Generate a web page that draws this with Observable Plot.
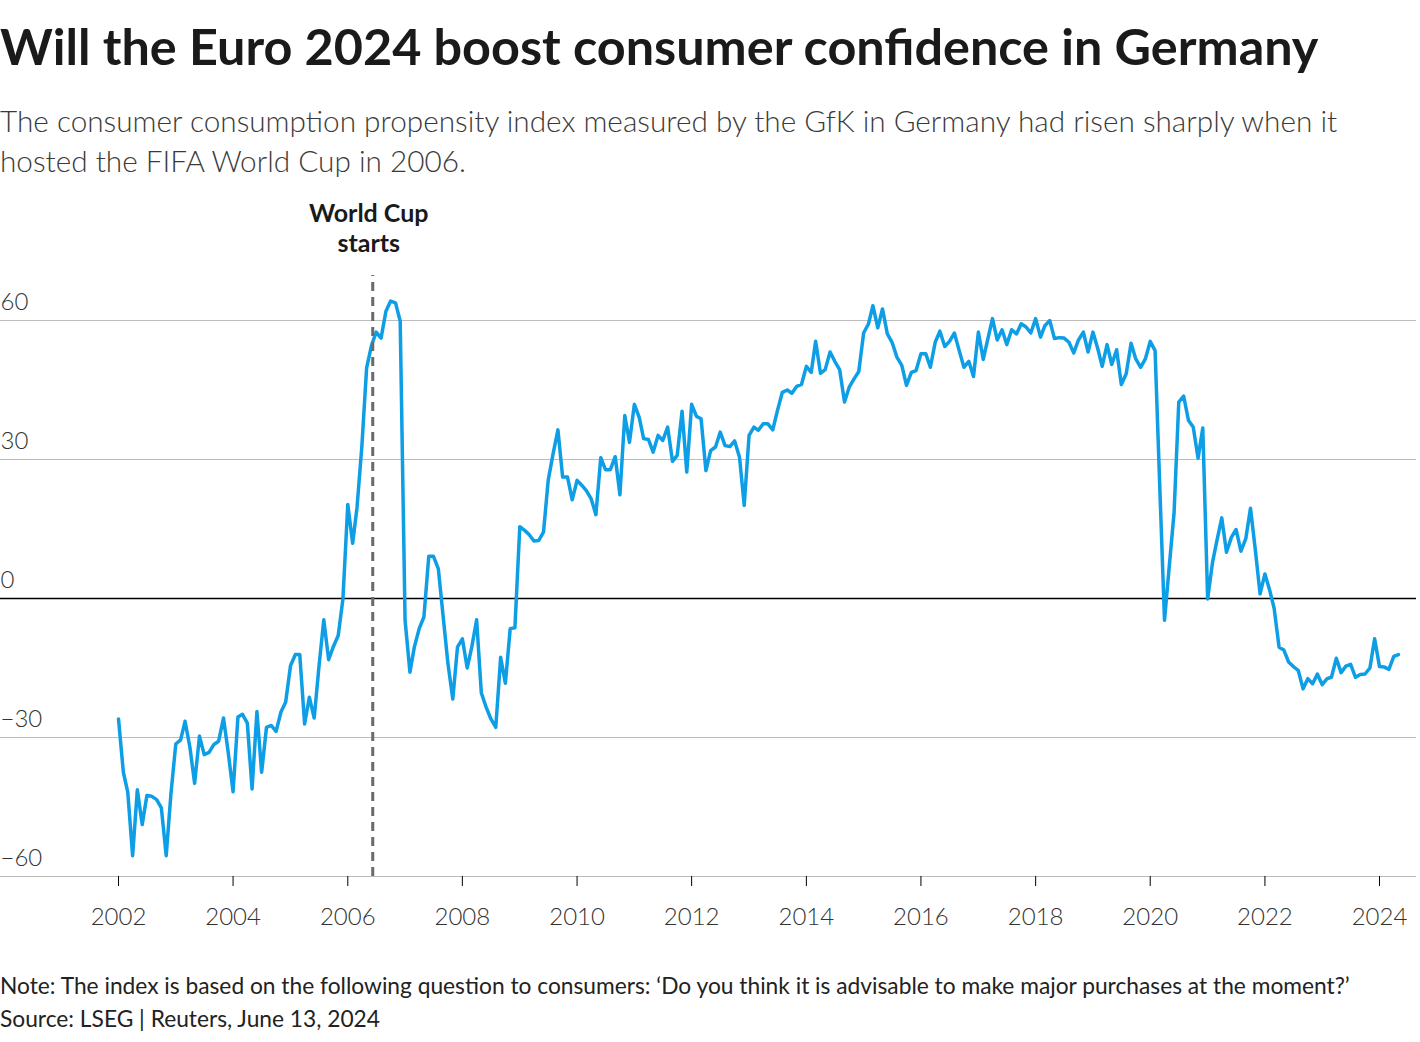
<!DOCTYPE html>
<html>
<head>
<meta charset="utf-8">
<script src="https://cdn.jsdelivr.net/npm/d3@7"></script>
<script src="https://cdn.jsdelivr.net/npm/@observablehq/plot@0.6"></script>
<style>
  html, body { margin: 0; padding: 0; background: #fff; }
  body { width: 1420px; height: 1042px; position: relative; overflow: hidden; font-family: Lato, "Noto Sans", sans-serif; }
  .t { position: absolute; left: 0; white-space: nowrap; line-height: 1; }
  #chart { position: absolute; left: 0; top: 190px; }
</style>
</head>
<body>
<div class="t" id="title"></div>
<div class="t" id="sub1"></div>
<div class="t" id="sub2"></div>
<div class="t" id="note"></div>
<div class="t" id="source"></div>
<div id="chart"></div>
<script>
// ---- Text ----
const titleText = "Will the Euro 2024 boost consumer confidence in Germany";
const subtitleLines = [
  "The consumer consumption propensity index measured by the GfK in Germany had risen sharply when it",
  "hosted the FIFA World Cup in 2006."
];
const noteText = "Note: The index is based on the following question to consumers: \u2018Do you think it is advisable to make major purchases at the moment?\u2019";
const sourceText = "Source: LSEG | Reuters, June 13, 2024";
const annotationText = "World Cup\nstarts";

// ---- Data ----
const startYear = 2002; // first value = January 2002, monthly
const indexValues = [
  // 2002
  -26, -37.5, -41.8, -55.5, -41.3, -48.8, -42.5, -42.7, -43.4, -45.2, -55.5, -42.2,
  // 2003
  -31.4, -30.5, -26.5, -32.1, -39.9, -29.7, -33.7, -33.2, -31.5, -30.8, -25.8, -33.2,
  // 2004
  -41.7, -25.6, -25, -26.9, -41.1, -24.4, -37.5, -27.8, -27.4, -28.7, -24.5, -22.4,
  // 2005
  -14.5, -12.1, -12.1, -27.1, -21.3, -25.8, -14.8, -4.6, -13.2, -10.4, -8, -0.1,
  // 2006
  20.3, 11.9, 19.7, 33, 49.8, 54.6, 57.5, 56.2, 62, 64.2, 63.8, 59.9,
  // 2007
  -4.7, -15.9, -10.5, -6.5, -4, 9.1, 9.1, 6.4, -4, -14, -21.7, -10.5,
  // 2008
  -8.7, -15, -10.5, -4.6, -20.4, -23.5, -26, -27.8, -12.7, -18.3, -6.5, -6.3,
  // 2009
  15.5, 14.7, 13.8, 12.4, 12.5, 14.3, 25.5, 31.2, 36.4, 26.2, 26.2, 21.3,
  // 2010
  25.5, 24.4, 23.3, 21.5, 18.1, 30.4, 27.8, 27.8, 30.6, 22.4, 39.5, 33.7,
  // 2011
  41.9, 39.1, 34.5, 34.3, 31.6, 35.2, 34.1, 37, 29.6, 30.9, 40.4, 27.3,
  // 2012
  41.9, 39.3, 38.8, 27.6, 31.9, 32.7, 35.9, 33, 32.8, 34, 30.5, 20.1,
  // 2013
  35.2, 37, 36.3, 37.7, 37.7, 36.4, 40.6, 44.5, 45, 44.3, 45.8, 46.2,
  // 2014
  50.1, 48.8, 55.5, 48.6, 49.4, 53.2, 51.2, 49.4, 42.4, 45.6, 47.4, 49,
  // 2015
  57.3, 59.3, 63.2, 58.4, 62.5, 57.1, 55.3, 52.1, 50.3, 46, 48.8, 49.2,
  // 2016
  52.8, 52.8, 49.9, 55.3, 57.7, 54.4, 55.5, 57.3, 53.5, 49.9, 51.2, 47.9,
  // 2017
  57.5, 51.6, 55.8, 60.4, 55.8, 58, 54.8, 58, 57.1, 59.3, 58.6, 57.3,
  // 2018
  60.4, 56.4, 58.9, 60, 56.1, 56.3, 56.2, 55.3, 53, 55.8, 57.5, 53.2,
  // 2019
  57.5, 53.9, 50.1, 54.8, 50.5, 53.7, 46.2, 48.5, 55.1, 51.7, 49.9, 51.7,
  // 2020
  55.5, 53.5, 25, -4.7, 6.8, 18.5, 42.4, 43.7, 38.4, 37, 30.3, 36.8,
  // 2021
  -0.1, 7.8, 12.5, 17.4, 10, 13.2, 14.9, 10.2, 12.9, 19.5, 10.4, 1,
  // 2022
  5.3, 1.7, -2.2, -10.5, -11.1, -13.7, -14.7, -15.5, -19.5, -17.3, -18.4, -16.3,
  // 2023
  -18.6, -17.3, -17, -12.9, -16, -14.6, -14.2, -17, -16.4, -16.3, -15, -8.7,
  // 2024
  -14.7, -14.8, -15.3, -12.5, -12.1
];
const yTicks = [-60, -30, 0, 30, 60];
const xTickYears = [2002, 2004, 2006, 2008, 2010, 2012, 2014, 2016, 2018, 2020, 2022, 2024];
const worldCupStart = new Date(Date.UTC(2006, 5, 9));
const yDomain = [-60, 60];
const xDomainYears = [2002, 2024];

const data = indexValues.map((v, i) => ({date: new Date(Date.UTC(startYear, i, 1)), value: v}));
const xTickDates = xTickYears.map(y => new Date(Date.UTC(y, 0, 1)));

// ---- Header / footer text placement ----
const FONT = "Lato";
const canvas = document.createElement("canvas");
const ctx = canvas.getContext("2d");
function fit(text, weight, width) {
  ctx.font = `${weight} 100px ${FONT}`;
  return 100 * width / ctx.measureText(text).width;
}
function place(id, text, weight, size, baseline, color) {
  const el = document.getElementById(id);
  el.textContent = text;
  el.style.fontWeight = weight;
  el.style.fontSize = size + "px";
  el.style.color = color;
  el.style.top = (baseline - 0.887 * size) + "px";
}
const titleSize = fit(titleText, 700, 1320);
place("title", titleText, 700, titleSize, 66, "#1a1a1a");
const subSize = fit(subtitleLines[0], 300, 1342);
place("sub1", subtitleLines[0], 300, subSize, 132, "#3a3a3a");
place("sub2", subtitleLines[1], 300, subSize, 172, "#3a3a3a");
const noteSize = fit(noteText, 400, 1352);
place("note", noteText, 400, noteSize, 995, "#222");
place("source", sourceText, 400, noteSize, 1028, "#222");

// ---- Chart ----
const fmt = d3.format("d");
const chart = Plot.plot({
  width: 1420,
  height: 760,
  marginTop: 130,
  marginBottom: 74,
  marginLeft: 0,
  marginRight: 4,
  style: {fontFamily: FONT, fontSize: "24px", background: "#fff", overflow: "visible"},
  x: {type: "utc", domain: xDomainYears.map(y => new Date(Date.UTC(y, 0, 1))), range: [118, 1379]},
  y: {domain: yDomain, range: [686, 130], axis: null},
  marks: [
    Plot.ruleY(yTicks.filter(d => d !== 0), {stroke: "#bcbcbc", strokeWidth: 1.2}),
    Plot.ruleY([0], {stroke: "#000", strokeWidth: 1.5}),
    Plot.text(yTicks, {y: d => d, text: d => fmt(d), frameAnchor: "left", textAnchor: "start", lineAnchor: "bottom", dy: -11, fill: "#333", fontWeight: 300, fontSize: 24}),
    Plot.axisX(xTickDates, {tickSize: 10, tickPadding: 21, tickFormat: "%Y", stroke: "#000", fill: "#333", fontWeight: 300, fontSize: 24}),
    Plot.line(data, {x: "date", y: "value", stroke: "#0d9ee6", strokeWidth: 3.5, strokeLinejoin: "round"}),
    Plot.ruleX([worldCupStart], {y1: -60, y2: 69.7, stroke: "#6a6a6a", strokeWidth: 3, strokeDasharray: "9,6"}),
    Plot.text([worldCupStart], {x: d => d, text: () => annotationText, frameAnchor: "top", lineAnchor: "bottom", lineHeight: 1.2, dy: -69, dx: -4, fontWeight: 700, fontSize: 25, fill: "#1a1a1a"})
  ]
});
document.getElementById("chart").appendChild(chart);
</script>
</body>
</html>
